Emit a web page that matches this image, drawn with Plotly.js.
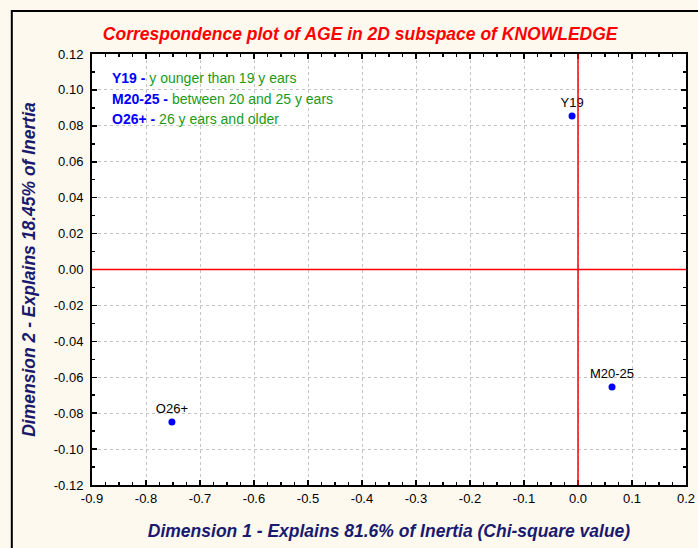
<!DOCTYPE html>
<html>
<head>
<meta charset="utf-8">
<script src="https://cdn.plot.ly/plotly-3.0.1.min.js"></script>
<style>
html,body{margin:0;padding:0;background:#fdf9ef;}
#chart{width:698px;height:548px;}
</style>
</head>
<body>
<div id="chart"></div>
<script>
// Data
const labels = ["Y19", "M20-25", "O26+"];
const dim1 = [-0.011, 0.063, -0.752];
const dim2 = [0.0855, -0.0654, -0.0849];
const legendCodes = ["Y19 -", "M20-25 -", "O26+ -"];
const legendTexts = ["y ounger than 19 y ears", "between 20 and 25 y ears", "26 y ears and older"];
const xTickVals = [-0.9, -0.8, -0.7, -0.6, -0.5, -0.4, -0.3, -0.2, -0.1, 0.0, 0.1, 0.2];
const xTickText = ["-0.9", "-0.8", "-0.7", "-0.6", "-0.5", "-0.4", "-0.3", "-0.2", "-0.1", "0.0", "0.1", "0.2"];
const yTickVals = [-0.12, -0.10, -0.08, -0.06, -0.04, -0.02, 0.00, 0.02, 0.04, 0.06, 0.08, 0.10, 0.12];
const yTickText = ["-0.12", "-0.10", "-0.08", "-0.06", "-0.04", "-0.02", "0.00", "0.02", "0.04", "0.06", "0.08", "0.10", "0.12"];

const font = "Liberation Sans, Arial, sans-serif";

const trace = {
  x: dim1, y: dim2, text: labels,
  type: "scatter", mode: "markers+text",
  textposition: "top center",
  textfont: {family: font, size: 13, color: "#000"},
  marker: {color: "#0000ff", size: 7},
  cliponaxis: false,
  hoverinfo: "skip"
};

const legendY = [0.945, 0.896, 0.850];
const annotations = legendCodes.map((c, i) => ({
  xref: "paper", yref: "paper", x: 0.03, y: legendY[i],
  xanchor: "left", yanchor: "middle", showarrow: false,
  text: "<b><span style='color:#0000ff'>" + c + "</span></b> <span style='color:#1a9a1a'>" + legendTexts[i] + "</span>",
  font: {family: font, size: 14}
}));

const layout = {
  width: 698, height: 548,
  paper_bgcolor: "#fdf9ef", plot_bgcolor: "#ffffff",
  margin: {l: 92, r: 12, t: 54, b: 63},
  showlegend: false,
  title: {
    text: "<b><i>Correspondence plot of AGE in 2D subspace of KNOWLEDGE</i></b>",
    font: {family: font, size: 17.5, color: "#ff0000"},
    x: 0.516, xref: "container", xanchor: "center", y: 0.938, yanchor: "middle"
  },
  xaxis: {
    range: [-0.9, 0.2], tickmode: "array", tickvals: xTickVals, ticktext: xTickText,
    ticks: "inside", ticklen: 5, tickcolor: "#000", tickwidth: 1.5,
    showline: true, linecolor: "#000", linewidth: 2, mirror: "ticks",
    showgrid: true, gridcolor: "#c4c4c4", griddash: "dot", gridwidth: 1,
    zeroline: false,
    minor: {dtick: 0.025, tick0: 0, ticks: "inside", ticklen: 3, tickcolor: "#000", showgrid: false},
    tickfont: {family: font, size: 13, color: "#000"},
    title: {text: "<b><i>Dimension 1 - Explains 81.6% of Inertia (Chi-square value)</i></b>",
      font: {family: font, size: 17.5, color: "#1a1a6e"}, standoff: 20}
  },
  yaxis: {
    range: [-0.12, 0.12], tickmode: "array", tickvals: yTickVals, ticktext: yTickText,
    ticks: "inside", ticklen: 5, tickcolor: "#000", tickwidth: 1.5,
    showline: true, linecolor: "#000", linewidth: 2, mirror: "ticks",
    showgrid: true, gridcolor: "#c4c4c4", griddash: "dot", gridwidth: 1,
    zeroline: false,
    minor: {dtick: 0.01, tick0: 0, ticks: "inside", ticklen: 3, tickcolor: "#000", showgrid: false},
    tickfont: {family: font, size: 13, color: "#000"},
    ticklabelstandoff: 4,
    title: {text: "<b><i>Dimension 2 - Explains 18.45% of Inertia</i></b>",
      font: {family: font, size: 17.5, color: "#1a1a6e"}, standoff: 14}
  },
  shapes: [
    {type: "line", xref: "x", yref: "paper", x0: 0, x1: 0, y0: 0, y1: 1, line: {color: "#ff0000", width: 1.5}},
    {type: "line", xref: "paper", yref: "y", x0: 0, x1: 1, y0: 0, y1: 0, line: {color: "#ff0000", width: 1.5}},
    {type: "rect", xref: "paper", yref: "paper", x0: -0.135, x1: 1.1, y0: -0.3, y1: 1.1, line: {color: "#000", width: 2}, fillcolor: "rgba(0,0,0,0)", layer: "below"}
  ],
  annotations: annotations
};

Plotly.newPlot("chart", [trace], layout, {displayModeBar: false, staticPlot: true});
</script>
</body>
</html>
